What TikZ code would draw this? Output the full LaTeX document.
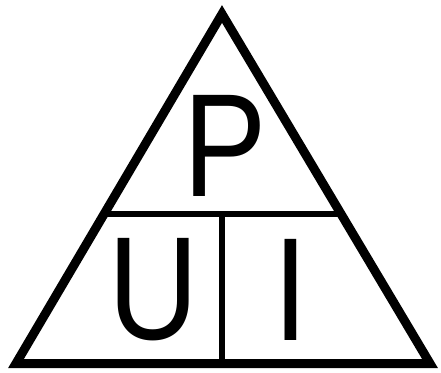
\documentclass[tikz,border=0pt]{standalone}
\usepackage{fontspec}
\setmainfont{Liberation Sans}
\usetikzlibrary{calc}
\begin{document}
\begin{tikzpicture}[x=1pt,y=1pt,
  outer/.style={line width=9pt,line join=miter,miter limit=10},
  inner/.style={line width=5.5pt},
  letter/.style={inner sep=0pt,xscale=0.85,transform shape,font=\fontsize{147}{147}\selectfont}]
\useasboundingbox (0,0) rectangle (441,372);
\coordinate (A) at (222,358);
\coordinate (L) at (16,8.5);
\coordinate (R) at (430,8.5);
\draw[outer] (A) -- (L) -- (R) -- cycle;
\coordinate (HL) at ($(A)!0.572!(L)$);
\coordinate (HR) at ($(A)!0.572!(R)$);
\draw[inner] (HL) -- (HR);
\coordinate (VT) at (222,158);
\coordinate (VB) at (222,10);
\draw[inner] (VT) -- (VB);
\node[letter] (P) at (225.5,226.5) {P};
\node[letter] (U) at (153.3,82) {U};
\node[letter] (I) at (291,82) {I};
\end{tikzpicture}
\end{document}
